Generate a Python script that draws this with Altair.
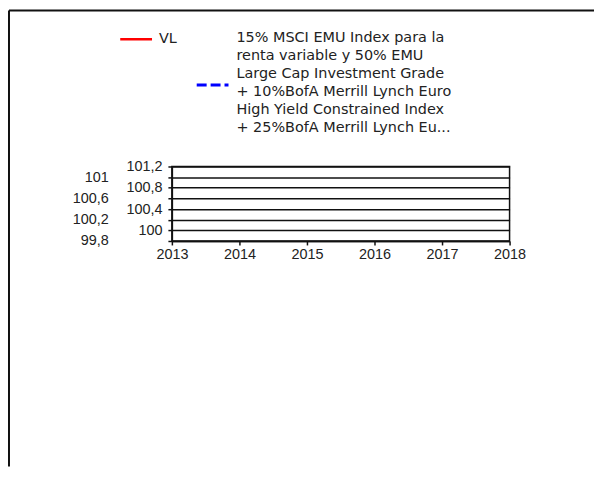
import json
import altair as alt
import pandas as pd

# ---------------- data ----------------
years = [2013, 2014, 2015, 2016, 2017, 2018]
y_ticks = [99.8, 100.0, 100.2, 100.4, 100.6, 100.8, 101.0, 101.2]
y_labels_inner = [100.0, 100.4, 100.8, 101.2]
y_labels_outer = [99.8, 100.2, 100.6, 101.0]

series_names = [
    "VL",
    "15% MSCI EMU Index para la renta variable y 50% EMU Large Cap Investment Grade "
    "+ 10%BofA Merrill Lynch Euro High Yield Constrained Index + 25%BofA Merrill Lynch Eu...",
]
series_colors = ["#ff0000", "#0000ff"]
series_dashes = [[1, 0], [10, 4]]

# the reference shows no plotted values for either series
vl_years = []
vl_values = []
bench_years = []
bench_values = []

bench_label_lines = [
    "15% MSCI EMU Index para la",
    "renta variable y 50% EMU",
    "Large Cap Investment Grade",
    "+ 10%BofA Merrill Lynch Euro",
    "High Yield Constrained Index",
    "+ 25%BofA Merrill Lynch Eu...",
]

# ---------------- chart ----------------
AX_FONT = "Liberation Sans"
LEG_FONT = "DejaVu Sans"
TEXT_COLOR = "#222222"

series_df = pd.DataFrame({
    "year": pd.Series(vl_years + bench_years, dtype=float),
    "value": pd.Series(vl_values + bench_values, dtype=float),
    "series": pd.Series(["VL"] * len(vl_values) + [series_names[1]] * len(bench_values), dtype=object),
})

y_dom = [y_ticks[0], y_ticks[-1]]
x_scale = alt.Scale(domain=[years[0], years[-1]], nice=False, zero=False)

inner_expr = "indexof(%s, datum.value) >= 0 ? replace(datum.label, '.', ',') : ''" % json.dumps(y_labels_inner)

lines = alt.Chart(series_df).mark_line(strokeWidth=2).encode(
    x=alt.X("year:Q", scale=x_scale,
            axis=alt.Axis(values=years, format="d", title=None, grid=False,
                          tickSize=4, labelPadding=3, labelFlush=False)),
    y=alt.Y("value:Q", scale=alt.Scale(domain=y_dom, nice=False, zero=False),
            axis=alt.Axis(values=y_ticks, format=".1~f", labelExpr=inner_expr,
                          grid=True, title=None, tickSize=4, labelPadding=6)),
    color=alt.Color("series:N", scale=alt.Scale(domain=series_names, range=series_colors), legend=None),
    strokeDash=alt.StrokeDash("series:N", scale=alt.Scale(domain=series_names, range=series_dashes), legend=None),
)

outer_axis = alt.Chart(pd.DataFrame({"v": y_labels_outer})).mark_point(opacity=0).encode(
    y=alt.Y("v:Q", scale=alt.Scale(domain=y_dom, nice=False, zero=False),
            axis=alt.Axis(orient="left", offset=60, values=y_labels_outer, format=".1~f",
                          labelExpr="replace(datum.label, '.', ',')",
                          domain=False, ticks=False, tickSize=0, grid=False,
                          title=None, labelPadding=4)),
)

one = alt.Data(values=[{}])

frame_top = alt.Chart(one).mark_rule(color="#111111", strokeWidth=2).encode(
    x=alt.value(-164), x2=alt.value(425), y=alt.value(-157))
frame_left = alt.Chart(one).mark_rule(color="#111111", strokeWidth=2).encode(
    x=alt.value(-164), y=alt.value(-157), y2=alt.value(302))

leg_red = alt.Chart(one).mark_rule(color=series_colors[0], strokeWidth=2.5).encode(
    x=alt.value(-52), x2=alt.value(-20), y=alt.value(-128))
leg_red_txt = alt.Chart(one).mark_text(align="left", baseline="middle", font=LEG_FONT,
                                       fontSize=14.5, color=TEXT_COLOR).encode(
    x=alt.value(-13), y=alt.value(-128), text=alt.value(series_names[0]))

leg_blue = alt.Chart(one).mark_rule(color=series_colors[1], strokeWidth=3,
                                    strokeDash=series_dashes[1]).encode(
    x=alt.value(25), x2=alt.value(57), y=alt.value(-82))
leg_blue_txt = alt.Chart(one).mark_text(align="left", baseline="top", font=LEG_FONT,
                                        fontSize=14.5, lineHeight=18, color=TEXT_COLOR).encode(
    x=alt.value(65), y=alt.value(-136), text=alt.value(bench_label_lines))

chart = alt.layer(
    lines, outer_axis, frame_top, frame_left, leg_red, leg_red_txt, leg_blue, leg_blue_txt
).resolve_scale(
    y="independent"
).properties(
    width=340, height=75,
    autosize=alt.AutoSizeParams(type="none"),
    padding={"left": 165, "top": 158, "right": 85, "bottom": 227},
    background="white",
).configure_view(
    stroke="#111111", strokeWidth=1.5
).configure_axis(
    labelFont=AX_FONT, labelFontSize=14.5, labelColor=TEXT_COLOR,
    domainColor="#111111", domainWidth=1.5,
    tickColor="#111111", tickWidth=1.5,
    gridColor="#111111", gridWidth=1.5, gridOpacity=1,
)

chart.save("out.html", embed_options={"renderer": "svg", "actions": False})
